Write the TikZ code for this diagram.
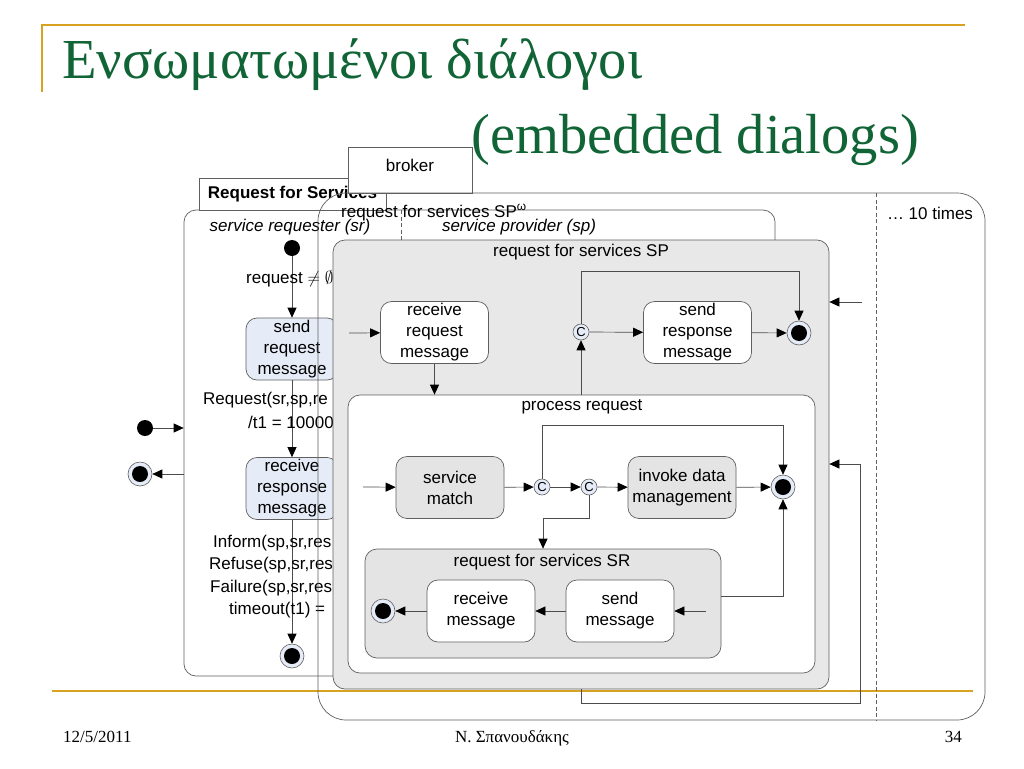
\documentclass[tikz,border=0pt]{standalone}
\usepackage{fontspec}
\setmainfont{Liberation Sans}
\newfontfamily\titleserif{Liberation Serif}
\usetikzlibrary{arrows.meta,calc}
\definecolor{gold}{RGB}{214,162,32}
\definecolor{titlegreen}{RGB}{16,100,54}
\definecolor{boxline}{RGB}{95,95,95}
\definecolor{panel}{RGB}{232,232,232}
\definecolor{panelb}{RGB}{228,228,228}
\definecolor{bluefill}{RGB}{230,236,247}
\tikzset{
  container/.style={draw=boxline, line width=0.7pt, inner sep=0pt},
  state/.style={draw=boxline, line width=0.7pt, rounded corners=11pt, align=center, inner sep=0pt, minimum width=108pt, minimum height=62pt, font=\fontsize{17}{21}\selectfont},
  whitestate/.style={state, fill=white},
  graystate/.style={state, fill=panelb},
  bluestate/.style={state, fill=bluefill, minimum width=92pt},
  initstate/.style={circle, fill=black, minimum size=16pt, inner sep=0pt},
  finalstate/.style={circle, draw=boxline, line width=0.6pt, fill=bluefill, minimum size=24pt, inner sep=0pt,
     path picture={\fill[black] (path picture bounding box.center) circle (8pt);}},
  choice/.style={circle, draw=boxline, line width=0.6pt, fill=bluefill, minimum size=16pt, inner sep=0pt, font=\fontsize{13}{13}\selectfont},
  arr/.style={-{Triangle[length=10pt,width=9pt,color=black]}, draw=black!70, line width=0.7pt},
  lbl/.style={inner sep=0pt, font=\fontsize{17}{21}\selectfont},
  ilbl/.style={inner sep=0pt, font=\itshape\fontsize{17}{21}\selectfont},
  dline/.style={draw=boxline, line width=0.6pt, dash pattern=on 4pt off 2.5pt},
  titlefont/.style={inner sep=0pt, text=titlegreen, font=\titleserif\fontsize{56.5}{62}\selectfont},
  footfont/.style={inner sep=0pt, font=\titleserif\fontsize{17}{19}\selectfont},
}
\begin{document}
\begin{tikzpicture}[x=1pt,y=-1pt]
\useasboundingbox (0,0) rectangle (1024,768);
\fill[white] (0,0) rectangle (1024,768);

% slide frame
\coordinate (gtl) at (42,25);
\coordinate (gtr) at (965,25);
\coordinate (gvl) at (42,92);
\coordinate (gbl) at (52,691);
\coordinate (gbr) at (973,691);
\draw[gold, line width=2pt] (gvl) -- (gtl) -- (gtr);
\draw[gold, line width=2.5pt] (gbl) -- (gbr);
\node[titlefont, anchor=base west] (t1) at (62,78) {Ενσωματωμένοι διάλογοι};
\node[titlefont, anchor=base east] (t2) at (919,153) {(embedded dialogs)};
\node[footfont, anchor=base west] (date) at (63,742) {12/5/2011};
\node[footfont, anchor=base] (auth) at (512,742) {Ν. Σπανουδάκης};
\node[footfont, anchor=base east] (pg) at (962,742) {34};

% Request for Services container
\node[container, rounded corners=12pt, minimum width=591pt, minimum height=466pt] (rfs) at (479.5,443) {};
\node[container, fill=white, minimum width=187pt, minimum height=32pt, font=\bfseries\fontsize{17}{21}\selectfont] (rfstab) at (292.5,194) {Request for Services};
\node[ilbl] (srlab) at (290,227) {service requester (sr)};
\node[ilbl] (splab) at (519,227) {service provider (sp)};

% service requester region
\node[initstate] (init) at (292,248) {};
\node[bluestate] (sreq) at (292,349) {send\\request\\message};
\node[bluestate] (rresp) at (292,488.5) {receive\\response\\message};
\node[finalstate] (fin1) at (292,656) {};
\draw[arr] (init) -- (sreq);
\draw[arr] (sreq) -- (rresp);
\draw[arr] (rresp) -- (fin1);
\node[lbl, anchor=west] (l1) at (246,279) {request $\neq\emptyset$};
\node[lbl, anchor=west] (l2) at (203,400) {Request(sr,sp,re};
\node[lbl, anchor=west] (l3) at (248,422) {/t1 = 10000};
\node[lbl, anchor=west] (l4) at (213,543) {Inform(sp,sr,res};
\node[lbl, anchor=west] (l5) at (209,565) {Refuse(sp,sr,res};
\node[lbl, anchor=west] (l6) at (210,588) {Failure(sp,sr,res};
\node[lbl, anchor=west] (l7) at (229,610) {timeout(t1) =};

% outside entry / exit
\node[initstate] (init2) at (145,428) {};
\node[finalstate] (fin2) at (140,474) {};
\draw[arr] (init2) -- (init2 -| rfs.west);
\draw[arr] (rfs.west |- fin2) -- (fin2);

% broker tab and outer SP^omega container
\node[container, fill=white, minimum width=124pt, minimum height=46pt] (broker) at (410,170) {};
\node[lbl] (brokerlab) at (410,165) {broker};
\node[container, rounded corners=28pt, minimum width=667pt, minimum height=527pt] (spw) at (651.5,456.5) {};
\coordinate (d1t) at (401,210);
\coordinate (d1b) at (401,240);
\draw[dline] (d1t) -- (d1b);
\coordinate (d2t) at (876,193);
\coordinate (d2b) at (876,720);
\draw[dline] (d2t) -- (d2b);
\node[lbl, anchor=base west] (spwlab) at (341,217) {request for services SP\textsuperscript{ω}};
\node[lbl] (times) at (930,213) {… 10 times};

% request for services SP
\node[container, fill=panel, rounded corners=12pt, minimum width=496pt, minimum height=449pt] (sp) at (581,464.5) {};
\node[lbl] (splab2) at (581,252) {request for services SP};
\node[whitestate] (rrm) at (434.5,332.5) {receive\\request\\message};
\node[whitestate] (srm) at (697.5,332.5) {send\\response\\message};
\node[choice] (c0) at (581,332) {C};
\node[finalstate] (fsp) at (799,333) {};
\coordinate (rrmin) at (349,333);
\draw[arr] (rrmin) -- (rrm);
\draw[arr] (c0) -- (srm);
\draw[arr] (srm) -- (fsp);
\coordinate (c0top) at (581,271);
\draw[arr] (c0.north) -- (c0top) -| (fsp.north);
\coordinate (spin) at (862,302);
\draw[arr] (spin) -- (spin -| sp.east);

% process request
\node[container, fill=white, rounded corners=12pt, minimum width=467pt, minimum height=278pt] (pr) at (581.5,534) {};
\node[lbl] (prlab) at (582,407) {process request};
\draw[arr] (rrm.south) -- (rrm.south |- pr.north);
\draw[arr] (c0 |- pr.north) -- (c0.south);
\node[graystate] (sm) at (450,487.5) {service\\match};
\node[graystate] (idm) at (682,487.5) {invoke data\\management};
\node[choice] (c1) at (542,487) {C};
\node[choice] (c2) at (589,487) {C};
\node[finalstate] (fpr) at (783,487) {};
\coordinate (prin) at (363,487);
\draw[arr] (prin) -- (sm);
\draw[arr] (sm) -- (c1);
\draw[arr] (c1) -- (c2);
\draw[arr] (c2) -- (idm);
\draw[arr] (idm) -- (fpr);
\coordinate (c1top) at (542,425);
\draw[arr] (c1.north) -- (c1top) -| (fpr.north);

% request for services SR
\node[container, fill=panelb, rounded corners=12pt, minimum width=356pt, minimum height=109pt] (sr) at (543,603.5) {};
\node[lbl] (srlab2) at (542,562) {request for services SR};
\coordinate (c2bot) at (589,518);
\draw[arr] (c2.south) -- (c2bot) -| (sr.north);
\node[whitestate] (sendm) at (620,611) {send\\message};
\node[whitestate] (recvm) at (481,611) {receive\\message};
\node[finalstate] (fsr) at (383,611) {};
\coordinate (srin) at (706,611);
\draw[arr] (srin) -- (sendm);
\draw[arr] (sendm) -- (recvm);
\draw[arr] (recvm) -- (fsr);
\coordinate (srout) at (721,596);
\draw[arr] (srout) -| (fpr.south);

% loop back (10 times)
\coordinate (loopb) at (581,703);
\coordinate (loopr) at (860,464);
\draw[arr] (sp.south) -- (loopb) -| (loopr) -- (loopr -| sp.east);
\end{tikzpicture}
\end{document}
